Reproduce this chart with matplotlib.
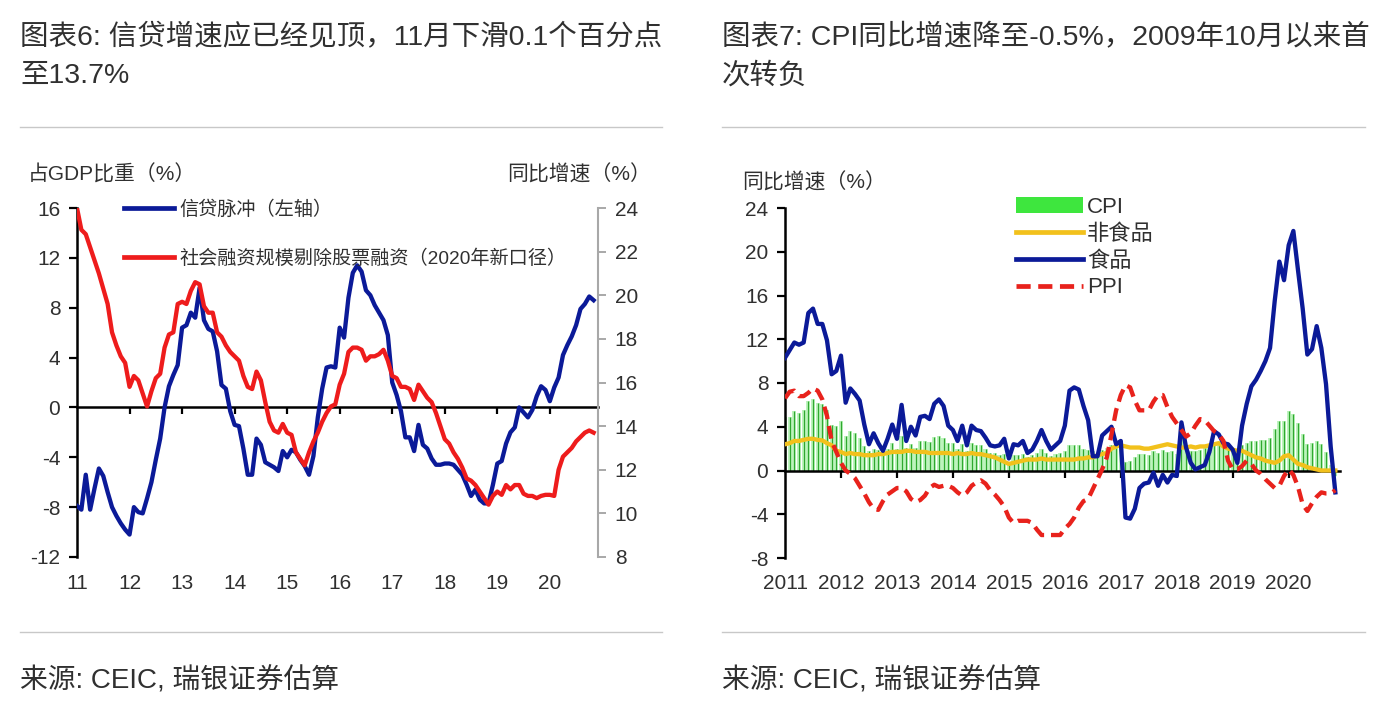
import matplotlib
matplotlib.use('Agg')
import matplotlib.pyplot as plt
import numpy as np
from matplotlib.lines import Line2D
from matplotlib.patches import Patch

FAM = ['Liberation Sans', 'Noto Sans CJK SC', 'DejaVu Sans']
plt.rcParams['font.family'] = FAM

# ---------------- data: left chart (Jan 2011 - Nov 2020, monthly) ----------------
credit_impulse = [
    -7.9, -8.2, -5.4, -8.2, -6.5, -4.9, -5.5, -6.8, -8.0, -8.7, -9.3, -9.8,
    -10.2, -8.0, -8.4, -8.5, -7.3, -6.0, -4.2, -2.5, 0.0, 1.7, 2.6, 3.4,
    6.4, 6.6, 7.6, 7.2, 9.6, 7.0, 6.3, 6.1, 4.5, 1.8, 1.5, -0.3,
    -1.4, -1.5, -3.3, -5.4, -5.4, -2.5, -3.0, -4.4, -4.6, -4.8, -5.1, -3.5,
    -4.0, -3.4, -3.6, -4.2, -4.7, -5.4, -3.9, -0.8, 1.5, 3.2, 3.3, 3.2,
    6.4, 5.6, 8.8, 10.8, 11.4, 10.9, 9.4, 9.0, 8.2, 7.6, 7.0, 5.8,
    2.0, 1.0, -0.3, -2.4, -2.4, -3.5, -1.4, -3.0, -3.3, -4.1, -4.6, -4.6,
    -4.5, -4.5, -4.6, -5.0, -5.4, -6.2, -7.1, -6.6, -7.4, -7.7, -7.7, -6.2,
    -4.5, -4.3, -2.9, -2.0, -1.6, 0.0, -0.4, -0.8, -0.2, 0.9, 1.7, 1.4,
    0.5, 1.6, 2.4, 4.2, 5.0, 5.7, 6.6, 7.9, 8.3, 8.9, 8.6]
tsf_growth = [
    24.0, 23.0, 22.8, 22.2, 21.6, 21.0, 20.3, 19.6, 18.3, 17.7, 17.2, 16.9,
    15.8, 16.3, 16.1, 15.5, 14.9, 15.6, 16.2, 16.4, 17.6, 18.2, 18.3, 19.6,
    19.7, 19.6, 20.2, 20.6, 20.5, 19.5, 19.2, 19.2, 18.3, 18.1, 17.7, 17.4,
    17.2, 17.0, 16.3, 15.8, 15.7, 16.5, 16.1, 15.1, 14.2, 13.8, 13.7, 14.1,
    13.7, 13.6, 12.8, 12.5, 12.2, 12.8, 13.3, 13.7, 14.2, 14.6, 14.9, 15.0,
    15.9, 16.4, 17.4, 17.6, 17.6, 17.5, 17.0, 17.2, 17.2, 17.3, 17.5, 17.0,
    16.3, 16.2, 15.8, 15.8, 15.7, 15.2, 15.9, 15.6, 15.3, 15.1, 14.6, 14.0,
    13.4, 13.2, 12.8, 12.5, 12.1, 11.6, 11.5, 11.3, 11.0, 10.7, 10.4, 10.8,
    11.0, 10.85, 11.3, 11.1, 11.3, 11.3, 10.9, 10.8, 10.8, 10.7, 10.8, 10.85,
    10.85, 10.8, 12.0, 12.6, 12.8, 13.0, 13.3, 13.5, 13.7, 13.8, 13.7]
years_left = ['11', '12', '13', '14', '15', '16', '17', '18', '19', '20']

# ---------------- data: right chart (Jan 2011 - Nov 2020, monthly) ----------------
cpi = [
    4.9, 4.9, 5.4, 5.3, 5.5, 6.4, 6.5, 6.2, 6.1, 5.5, 4.2, 4.1,
    4.5, 3.2, 3.6, 3.4, 3.0, 2.2, 1.8, 2.0, 1.9, 1.7, 2.0, 2.5,
    2.0, 3.2, 2.1, 2.4, 2.1, 2.7, 2.7, 2.6, 3.1, 3.2, 3.0, 2.5,
    2.5, 2.0, 2.4, 1.8, 2.5, 2.3, 2.3, 2.0, 1.6, 1.6, 1.4, 1.5,
    0.8, 1.4, 1.4, 1.5, 1.2, 1.4, 1.6, 2.0, 1.6, 1.3, 1.5, 1.6,
    1.8, 2.3, 2.3, 2.3, 2.0, 1.9, 1.8, 1.3, 1.9, 2.1, 2.3, 2.1,
    2.5, 0.8, 0.9, 1.2, 1.5, 1.5, 1.4, 1.8, 1.6, 1.9, 1.7, 1.8,
    1.5, 2.9, 2.1, 1.8, 1.8, 1.9, 2.1, 2.3, 2.5, 2.5, 2.2, 1.9,
    1.7, 1.5, 2.3, 2.5, 2.7, 2.7, 2.8, 2.8, 3.0, 3.8, 4.5, 4.5,
    5.4, 5.2, 4.3, 3.3, 2.4, 2.5, 2.7, 2.4, 1.7, 0.5, -0.5]
nonfood = [
    2.4, 2.5, 2.7, 2.7, 2.8, 2.9, 2.9, 2.8, 2.75, 2.5, 2.3, 1.8,
    1.7, 1.5, 1.6, 1.5, 1.5, 1.4, 1.4, 1.4, 1.5, 1.5, 1.6, 1.7,
    1.7, 1.7, 1.8, 1.8, 1.7, 1.7, 1.7, 1.6, 1.6, 1.6, 1.6, 1.6,
    1.5, 1.6, 1.5, 1.5, 1.6, 1.5, 1.5, 1.4, 1.3, 1.2, 1.0, 0.8,
    0.6, 0.7, 0.8, 0.9, 1.0, 1.0, 1.0, 1.1, 1.0, 1.0, 1.0, 1.0,
    1.0, 1.0, 1.0, 1.1, 1.1, 1.2, 1.2, 1.4, 1.5, 1.6, 2.0, 2.2,
    2.3, 2.2, 2.1, 2.1, 2.1, 2.0, 2.0, 2.1, 2.2, 2.3, 2.4, 2.3,
    2.2, 2.1, 2.1, 2.2, 2.1, 2.2, 2.2, 2.3, 2.4, 2.5, 2.2, 2.0,
    1.9, 1.8, 1.8, 1.6, 1.4, 1.2, 1.1, 0.9, 0.8, 0.7, 0.9, 1.3,
    1.4, 1.0, 0.6, 0.5, 0.3, 0.2, 0.1, 0.0, 0.0, 0.0, 0.0]
food = [
    10.3, 11.0, 11.7, 11.5, 11.7, 14.4, 14.8, 13.4, 13.4, 11.9, 8.8, 9.1,
    10.5, 6.2, 7.5, 7.0, 6.4, 4.2, 2.4, 3.4, 2.5, 1.8, 2.9, 4.2,
    2.9, 6.0, 2.7, 4.0, 3.2, 4.9, 5.0, 4.7, 6.1, 6.5, 5.9, 4.1,
    3.7, 2.7, 4.1, 2.3, 4.1, 3.7, 3.6, 3.0, 2.3, 2.2, 2.3, 2.9,
    1.1, 2.4, 2.3, 2.7, 1.6, 1.9, 2.7, 3.7, 2.7, 1.9, 2.3, 2.7,
    4.1, 7.3, 7.6, 7.4, 5.9, 4.6, 1.3, 1.3, 3.2, 3.6, 4.0, 2.4,
    2.7, -4.3, -4.4, -3.5, -1.6, -1.2, -1.1, -0.2, -1.4, -0.4, -1.1, -0.4,
    -0.5, 4.4, 2.1, 0.7, 0.1, 0.3, 0.5, 1.7, 3.6, 3.3, 2.5, 2.4,
    1.9, 0.7, 4.1, 6.1, 7.7, 8.3, 9.1, 10.0, 11.2, 15.5, 19.1, 17.4,
    20.6, 21.9, 18.3, 14.8, 10.6, 11.1, 13.2, 11.2, 7.9, 2.2, -2.0]
ppi = [
    6.6, 7.2, 7.3, 6.8, 6.8, 7.1, 7.5, 7.3, 6.5, 5.0, 2.7, 1.7,
    0.7, 0.0, -0.3, -0.7, -1.4, -2.1, -2.9, -3.5, -3.6, -2.8, -2.2, -1.9,
    -1.6, -1.6, -1.9, -2.6, -2.9, -2.7, -2.3, -1.6, -1.3, -1.5, -1.4, -1.4,
    -1.6, -2.0, -2.3, -2.0, -1.4, -1.1, -0.9, -1.2, -1.8, -2.2, -2.7, -3.3,
    -4.3, -4.8, -4.6, -4.6, -4.6, -4.8, -5.4, -5.9, -5.9, -5.9, -5.9, -5.9,
    -5.3, -4.9, -4.3, -3.4, -2.8, -2.6, -1.7, -0.8, 0.1, 1.2, 3.3, 5.5,
    6.9, 7.8, 7.6, 6.4, 5.5, 5.5, 5.5, 6.3, 6.9, 6.9, 5.8, 4.9,
    4.3, 3.7, 3.1, 3.4, 4.1, 4.7, 4.6, 4.1, 3.6, 3.3, 2.7, 0.9,
    0.1, 0.1, 0.4, 0.9, 0.6, 0.0, -0.3, -0.8, -1.2, -1.6, -1.4, -0.5,
    0.1, -0.4, -1.5, -3.1, -3.7, -3.0, -2.4, -2.0, -2.1, -2.1, -1.8]
years_right = ['2011', '2012', '2013', '2014', '2015', '2016', '2017', '2018', '2019', '2020']

# ---------------- figure ----------------
W, H = 1382, 710
fig = plt.figure(figsize=(W / 100, H / 100), dpi=100)
fig.patch.set_facecolor('white')


def fx(px):
    return px / W


def fy(py):
    return 1 - py / H


TXT = '#303030'
BLUE = '#0b1a98'
RED = '#ee1c1c'
TS = 20.5

# titles / sources / separators
fig.text(fx(20), fy(38), '图表6: 信贷增速应已经见顶，11月下滑0.1个百分点', fontsize=TS,
         color=TXT, ha='left', va='center')
fig.text(fx(20), fy(76), '至13.7%', fontsize=TS, color=TXT, ha='left', va='center')
fig.text(fx(722), fy(38), '图表7: CPI同比增速降至-0.5%，2009年10月以来首', fontsize=TS,
         color=TXT, ha='left', va='center')
fig.text(fx(722), fy(76), '次转负', fontsize=TS, color=TXT, ha='left', va='center')
fig.text(fx(20), fy(681), '来源: CEIC, 瑞银证券估算', fontsize=20, color=TXT, ha='left', va='center')
fig.text(fx(722), fy(681), '来源: CEIC, 瑞银证券估算', fontsize=20, color=TXT, ha='left', va='center')
for (x0, x1) in [(20, 662), (722, 1365)]:
    for yy in (127, 632):
        fig.add_artist(Line2D([fx(x0), fx(x1)], [fy(yy), fy(yy)], color='#c8c8c8', lw=1.0))

LW = 3.1
TK = 15

# ---------------- left chart ----------------
n1 = len(credit_impulse)
xm = np.arange(n1)
ax1 = fig.add_axes([fx(77), fy(557), (598 - 77) / W, (557 - 208) / H])
ax1.plot(xm, credit_impulse, color=BLUE, lw=LW, zorder=3, solid_joinstyle='round')
ax1.set_xlim(0, 119)
ax1.set_ylim(-12, 16)
ax1.set_yticks(np.arange(-12, 17, 4))
ax1.set_yticklabels([str(v) for v in range(-12, 17, 4)])
for s in ('top', 'right'):
    ax1.spines[s].set_visible(False)
ax1.spines['left'].set_linewidth(1.8)
ax1.spines['bottom'].set_position(('data', 0))
ax1.spines['bottom'].set_linewidth(1.8)
ax1.set_xticks(np.arange(12, 119, 12))
ax1.tick_params(axis='x', direction='out', length=5, width=1.6, labelbottom=False)
ax1.tick_params(axis='y', direction='out', length=6, width=1.6, labelsize=TK,
                labelcolor=TXT, pad=6)
for i, lab in enumerate(years_left):
    ax1.text(12 * i, -0.075, lab, transform=ax1.get_xaxis_transform(), ha='center',
             va='center', fontsize=TK, color=TXT)

ax2 = ax1.twinx()
ax2.plot(xm, tsf_growth, color=RED, lw=LW, zorder=3, solid_joinstyle='round')
ax2.set_ylim(8, 24)
ax2.set_yticks(np.arange(8, 25, 2))
for s in ('top', 'left', 'bottom'):
    ax2.spines[s].set_visible(False)
ax2.spines['right'].set_color('#a8a8a8')
ax2.spines['right'].set_linewidth(1.5)
ax2.tick_params(axis='y', direction='out', length=6, width=1.4, color='#a8a8a8',
                labelsize=TK, labelcolor=TXT, pad=6)

fig.text(fx(28), fy(175), '占GDP比重（%）', fontsize=15, color=TXT, ha='left', va='center')
fig.text(fx(651), fy(175), '同比增速（%）', fontsize=15, color=TXT, ha='right', va='center')

fig.legend(handles=[Line2D([], [], color=BLUE, lw=3.4), Line2D([], [], color=RED, lw=3.4)],
           labels=['信贷脉冲（左轴）', '社会融资规模剔除股票融资（2020年新口径）'],
           loc='upper left', bbox_to_anchor=(fx(124), fy(200)), frameon=False,
           fontsize=13.8, handlelength=2.6, handletextpad=0.3, labelspacing=1.6,
           borderaxespad=0, borderpad=0, labelcolor=TXT)

# ---------------- right chart ----------------
n2 = len(food)
xr = np.arange(n2)
ax3 = fig.add_axes([fx(785), fy(558), (1340 - 785) / W, (558 - 208) / H])
ax3.bar(xr, cpi, width=0.9, color='#bdf4bd', edgecolor='none', zorder=1)
ax3.vlines(xr, 0, cpi, color='#2fa82f', lw=0.9, zorder=1.2)
ax3.plot(xr, nonfood, color='#f2c11c', lw=LW, zorder=3)
ax3.plot(xr, food, color=BLUE, lw=LW, zorder=4)
ax3.plot(xr, ppi, color='#e8221c', lw=LW, dashes=(3.0, 1.6), zorder=5)
ax3.set_xlim(0, 119)
ax3.set_ylim(-8, 24)
ax3.set_yticks(np.arange(-8, 25, 4))
ax3.set_yticklabels([str(v) for v in range(-8, 25, 4)])
for s in ('top', 'right'):
    ax3.spines[s].set_visible(False)
ax3.spines['left'].set_linewidth(1.8)
ax3.spines['bottom'].set_position(('data', 0))
ax3.spines['bottom'].set_linewidth(1.8)
ax3.spines['bottom'].set_zorder(2)
ax3.set_xticks(np.arange(12, 119, 12))
ax3.tick_params(axis='x', direction='out', length=5, width=1.6, labelbottom=False)
ax3.tick_params(axis='y', direction='out', length=6, width=1.6, labelsize=TK,
                labelcolor=TXT, pad=6)
for i, lab in enumerate(years_right):
    ax3.text(12 * i, -0.072, lab, transform=ax3.get_xaxis_transform(), ha='center',
             va='center', fontsize=TK, color=TXT)

fig.text(fx(742), fy(183), '同比增速（%）', fontsize=15, color=TXT, ha='left', va='center')

fig.legend(handles=[Patch(facecolor='#3ee63e', edgecolor='none'),
                    Line2D([], [], color='#f2c11c', lw=3.4),
                    Line2D([], [], color=BLUE, lw=3.4),
                    Line2D([], [], color='#e8221c', lw=3.4, dashes=(3.0, 1.6))],
           labels=['CPI', '非食品', '食品', 'PPI'],
           loc='upper left', bbox_to_anchor=(fx(1016), fy(197)), frameon=False,
           fontsize=16, handlelength=3.0, handleheight=0.7, handletextpad=0.2,
           labelspacing=0.26, borderaxespad=0, borderpad=0, labelcolor=TXT)

fig.savefig('out.png', dpi=100, facecolor='white')
